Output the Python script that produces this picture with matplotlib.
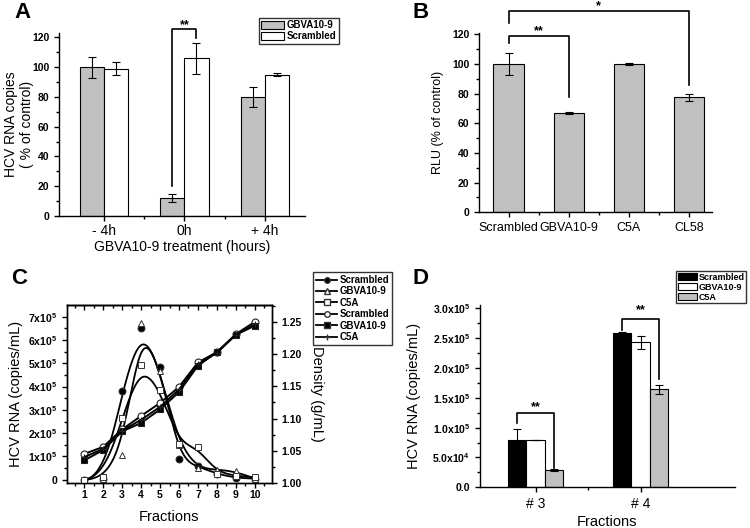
import matplotlib.pyplot as plt
import numpy as np
from matplotlib.ticker import MultipleLocator, FixedLocator, FuncFormatter
from matplotlib.patches import Patch
from matplotlib.lines import Line2D

plt.rcParams['font.family'] = 'Liberation Sans'
plt.rcParams['mathtext.fontset'] = 'custom'
plt.rcParams['mathtext.rm'] = 'Liberation Sans'
plt.rcParams['mathtext.bf'] = 'Liberation Sans:bold'
plt.rcParams['axes.linewidth'] = 1.0

CINZA = '#c0c0c0'

# Painel A
tempos = ['- 4h', '0h', '+ 4h']
a_gbva = [100, 12, 79.7]
a_gbva_err = [7, 2.7, 6.7]
a_scr = [99, 106, 94.8]
a_scr_err = [4.3, 10.5, 1.0]

# Painel B
b_cats = ['Scrambled', 'GBVA10-9', 'C5A', 'CL58']
b_vals = [100, 67, 100, 77.5]
b_err = [7.5, 0.4, 0.8, 2.1]

# Painel C (RNA em unidades de 1e5)
fracoes = [1, 2, 3, 4, 5, 6, 7, 8, 9, 10]
rna_scr = [0.0, 0.05, 3.79, 6.50, 4.86, 0.89, 0.57, 0.25, 0.07, 0.05]
rna_gbva = [0.0, 0.03, 1.05, 6.71, 4.67, 1.50, 0.50, 0.43, 0.36, 0.05]
rna_c5a = [0.0, 0.10, 2.64, 4.93, 3.86, 1.53, 1.40, 0.24, 0.17, 0.10]
dens_scr = [1.045, 1.056, 1.083, 1.104, 1.124, 1.149, 1.187, 1.203, 1.231, 1.250]
dens_gbva = [1.035, 1.051, 1.080, 1.093, 1.114, 1.141, 1.182, 1.203, 1.230, 1.244]
dens_c5a = [1.040, 1.053, 1.081, 1.098, 1.118, 1.145, 1.184, 1.202, 1.230, 1.246]

# Painel D
d_fracoes = ['# 3', '# 4']
d_scr = [8.0e4, 2.58e5]
d_scr_err = [1.7e4, 0.02e5]
d_gbva = [8.0e4, 2.43e5]
d_gbva_err = [0, 0.11e5]
d_c5a = [2.9e4, 1.64e5]
d_c5a_err = [0.1e4, 0.08e5]


def bspline(px, py, k=3, n=400):
    # curva B-spline (estilo Origin): pontos como pontos de controle
    px = np.asarray(px, float)
    py = np.asarray(py, float)
    m = len(px)
    knots = np.concatenate([np.zeros(k), np.arange(m - k + 1), np.full(k, m - k)])
    t = np.linspace(0, m - k, n)
    t[-1] -= 1e-9

    def base(i, p):
        if p == 0:
            return ((knots[i] <= t) & (t < knots[i + 1])).astype(float)
        esq = 0
        d1 = knots[i + p] - knots[i]
        if d1 > 0:
            esq = (t - knots[i]) / d1 * base(i, p - 1)
        dir_ = 0
        d2 = knots[i + p + 1] - knots[i + 1]
        if d2 > 0:
            dir_ = (knots[i + p + 1] - t) / d2 * base(i + 1, p - 1)
        return esq + dir_

    B = np.array([base(i, k) for i in range(m)])
    return px @ B, py @ B


def colchete(ax, x1, x2, y1, y2, ytop, texto, ytexto, fs=9):
    ax.plot([x1, x1, x2, x2], [y1, ytop, ytop, y2], color='black', lw=1.2, clip_on=False)
    ax.text((x1 + x2) / 2, ytexto, texto, ha='center', va='center', fontsize=fs,
            fontweight='bold')


def estilo_origin(ax):
    ax.spines['top'].set_visible(False)
    ax.spines['right'].set_visible(False)
    ax.tick_params(which='both', direction='out', width=1.0)
    ax.tick_params(which='major', length=3.5)
    ax.tick_params(which='minor', length=2)


fig = plt.figure(figsize=(7.5, 5.28), dpi=100)

# ---------- A ----------
ax_a = fig.add_axes([0.0787, 0.5909, 0.328, 0.3468])
x = np.arange(len(tempos))
w = 0.30
ax_a.bar(x - w / 2, a_gbva, w, color=CINZA, edgecolor='black', linewidth=0.8,
         yerr=a_gbva_err, capsize=3, error_kw=dict(elinewidth=0.8, capthick=0.8),
         label='GBVA10-9')
ax_a.bar(x + w / 2, a_scr, w, color='white', edgecolor='black', linewidth=0.8,
         yerr=a_scr_err, capsize=3, error_kw=dict(elinewidth=0.8, capthick=0.8),
         label='Scrambled')
ax_a.set_xlim(-0.56, 2.5)
ax_a.set_ylim(0, 123)
ax_a.set_xticks(x)
ax_a.set_xticklabels(tempos, fontsize=10)
ax_a.xaxis.set_minor_locator(FixedLocator([0.5, 1.5]))
ax_a.yaxis.set_major_locator(MultipleLocator(20))
ax_a.yaxis.set_minor_locator(MultipleLocator(10))
for lb in ax_a.get_yticklabels():
    lb.set_fontweight('bold')
    lb.set_fontsize(7.5)
estilo_origin(ax_a)
ax_a.tick_params(axis='x', pad=2)
ax_a.set_ylabel('HCV RNA copies\n( % of control)', fontsize=10)
ax_a.yaxis.set_label_coords(-0.102, 0.5)
ax_a.set_xlabel('GBVA10-9 treatment (hours)', fontsize=10, labelpad=2)
colchete(ax_a, 1 - w / 2, 1 + w / 2, 20.3, 119.3, 125.4, '**', 128.5)
fig.legend(handles=[Patch(facecolor=CINZA, edgecolor='black', lw=0.8, label='GBVA10-9'),
                    Patch(facecolor='white', edgecolor='black', lw=0.8, label='Scrambled')],
           loc='upper left', bbox_to_anchor=(0.3453, 0.9659), fancybox=False,
           edgecolor='#333333', framealpha=1, prop=dict(size=7, weight='bold'),
           handlelength=2.3, handleheight=0.9, labelspacing=0.1, borderpad=0.25,
           handletextpad=0.3, borderaxespad=0)
fig.text(0.030, 0.977, 'A', fontsize=16, fontweight='bold', ha='center', va='center')

# ---------- B ----------
ax_b = fig.add_axes([0.6387, 0.5979, 0.3107, 0.3398])
xb = np.arange(len(b_cats))
ax_b.bar(xb, b_vals, 0.5, color=CINZA, edgecolor='black', linewidth=0.8,
         yerr=b_err, capsize=3, error_kw=dict(elinewidth=0.8, capthick=0.8))
ax_b.set_xlim(-0.49, 3.38)
ax_b.set_ylim(0, 121)
ax_b.set_xticks(xb)
ax_b.set_xticklabels(b_cats, fontsize=9)
ax_b.xaxis.set_minor_locator(FixedLocator([0.5, 1.5, 2.5]))
ax_b.yaxis.set_major_locator(MultipleLocator(20))
ax_b.yaxis.set_minor_locator(MultipleLocator(10))
for lb in ax_b.get_yticklabels():
    lb.set_fontweight('bold')
    lb.set_fontsize(7.5)
estilo_origin(ax_b)
ax_b.set_ylabel('RLU (% of control)', fontsize=9)
ax_b.yaxis.set_label_coords(-0.152, 0.5)
colchete(ax_b, 0, 1, 114, 78, 119, '**', 122)
colchete(ax_b, 0, 3, 127.4, 85.8, 135.7, '*', 139)
fig.text(0.561, 0.977, 'B', fontsize=16, fontweight='bold', ha='center', va='center')

# ---------- C ----------
ax_c = fig.add_axes([0.0893, 0.0852, 0.2729, 0.3371])
ax_c2 = ax_c.twinx()
fx = np.array(fracoes, float)
for serie, mk, fc in [(rna_scr, 'o', 'black'), (rna_gbva, '^', 'white'), (rna_c5a, 's', 'white')]:
    cx, cy = bspline(fx, np.array(serie) * 1e5)
    ax_c.plot(cx, cy, color='black', lw=1.3, zorder=3)
    ax_c.plot(fx, np.array(serie) * 1e5, ls='none', marker=mk, ms=5,
              mfc=fc, mec='#333333', mew=0.7, zorder=4)
for serie, mk, fc in [(dens_scr, 'o', 'white'), (dens_gbva, 's', 'black'), (dens_c5a, '+', 'black')]:
    ax_c2.plot(fx, serie, color='black', lw=1.4, marker=mk, ms=5, mfc=fc,
               mec='#222222', mew=0.8)
ax_c.set_xlim(0.1, 10.88)
ax_c.set_ylim(-0.14e5, 7.5e5)
ax_c2.set_ylim(1.0, 1.276)
ax_c.set_xticks(fracoes)
ax_c.xaxis.set_minor_locator(MultipleLocator(0.5))
ax_c.yaxis.set_major_locator(FixedLocator(np.arange(0, 8) * 1e5))
ax_c.yaxis.set_minor_locator(FixedLocator(np.arange(0.5, 7.5, 1) * 1e5))
ax_c.yaxis.set_major_formatter(FuncFormatter(
    lambda v, _: '0' if abs(v) < 1 else r'$\mathbf{%dx10^5}$' % round(v / 1e5)))
ax_c2.yaxis.set_major_locator(MultipleLocator(0.05))
ax_c2.yaxis.set_minor_locator(MultipleLocator(0.025))
ax_c2.yaxis.set_major_formatter(FuncFormatter(lambda v, _: '%.2f' % v))
for a in (ax_c, ax_c2):
    a.tick_params(which='both', direction='out', width=1.0)
    a.tick_params(which='major', length=3.5)
    a.tick_params(which='minor', length=2)
    for lb in a.get_xticklabels() + a.get_yticklabels():
        lb.set_fontweight('bold')
        lb.set_fontsize(7.5)
ax_c.tick_params(axis='x', pad=1.5)
sec = ax_c.secondary_xaxis('top')
sec.set_xticks(fracoes)
sec.xaxis.set_minor_locator(MultipleLocator(0.5))
sec.tick_params(which='both', direction='in', labeltop=False, width=1.0)
sec.tick_params(which='major', length=3.5)
sec.tick_params(which='minor', length=2)
ax_c.set_ylabel('HCV RNA (copies/mL)', fontsize=10.5, labelpad=4)
ax_c2.set_ylabel('Density (g/mL)', fontsize=10.5, rotation=270, labelpad=16)
ax_c.set_xlabel('Fractions', fontsize=10.5, labelpad=7)
hc = [Line2D([], [], color='black', lw=1.3, marker='o', ms=4, mfc='black', mec='#333333'),
      Line2D([], [], color='black', lw=1.3, marker='^', ms=4, mfc='white', mec='#333333'),
      Line2D([], [], color='black', lw=1.3, marker='s', ms=4, mfc='white', mec='#333333'),
      Line2D([], [], color='black', lw=1.3, marker='o', ms=4, mfc='white', mec='#333333'),
      Line2D([], [], color='black', lw=1.3, marker='s', ms=4, mfc='black', mec='#333333'),
      Line2D([], [], color='black', lw=1.3, marker='+', ms=4, mfc='black', mec='#333333')]
fig.legend(handles=hc, labels=['Scrambled', 'GBVA10-9', 'C5A', 'Scrambled', 'GBVA10-9', 'C5A'],
           loc='upper left', bbox_to_anchor=(0.4173, 0.4848), fancybox=False,
           edgecolor='#333333', framealpha=1, prop=dict(size=7, weight='bold'),
           handlelength=2.2, labelspacing=0.15, borderpad=0.3,
           handletextpad=0.2, borderaxespad=0)
fig.text(0.025, 0.473, 'C', fontsize=16, fontweight='bold', ha='center', va='center')

# ---------- D ----------
ax_d = fig.add_axes([0.64, 0.0771, 0.34, 0.3447])
xd = np.arange(len(d_fracoes))
wd = 0.175
ek = dict(elinewidth=0.8, capthick=0.8)
ax_d.bar(xd - wd, d_scr, wd, color='black', edgecolor='black', linewidth=0.8,
         yerr=d_scr_err, capsize=3, error_kw=ek, label='Scrambled')
ax_d.bar(xd, d_gbva, wd, color='white', edgecolor='black', linewidth=0.8,
         yerr=d_gbva_err, capsize=3, error_kw=ek, label='GBVA10-9')
ax_d.bar(xd + wd, d_c5a, wd, color=CINZA, edgecolor='black', linewidth=0.8,
         yerr=d_c5a_err, capsize=3, error_kw=ek, label='C5A')
ax_d.set_xlim(-0.53, 1.9)
ax_d.set_ylim(0, 3.05e5)
ax_d.set_xticks(xd)
ax_d.set_xticklabels(d_fracoes, fontsize=10)
ax_d.xaxis.set_minor_locator(FixedLocator([0.5]))
ax_d.yaxis.set_major_locator(FixedLocator(np.arange(0, 7) * 0.5e5))
ax_d.yaxis.set_minor_locator(FixedLocator(np.arange(0.5, 6, 1) * 0.5e5))


def fmt_d(v, _):
    if v < 1:
        return '0.0'
    e = int(np.floor(np.log10(v)))
    return r'$\mathbf{%.1fx10^%d}$' % (v / 10 ** e, e)


ax_d.yaxis.set_major_formatter(FuncFormatter(fmt_d))
for lb in ax_d.get_yticklabels():
    lb.set_fontweight('bold')
    lb.set_fontsize(7.5)
estilo_origin(ax_d)
ax_d.set_ylabel('HCV RNA (copies/mL)', fontsize=10.5)
ax_d.yaxis.set_label_coords(-0.232, 0.5)
ax_d.set_xlabel('Fractions', fontsize=10.5, labelpad=3)
colchete(ax_d, -wd, wd, 1.07e5, 0.32e5, 1.24e5, '**', 1.35e5)
colchete(ax_d, 1 - wd, 1 + wd, 2.64e5, 1.82e5, 2.82e5, '**', 2.96e5)
fig.legend(handles=[Patch(facecolor='black', edgecolor='black', lw=0.8, label='Scrambled'),
                    Patch(facecolor='white', edgecolor='black', lw=0.8, label='GBVA10-9'),
                    Patch(facecolor=CINZA, edgecolor='black', lw=0.8, label='C5A')],
           loc='upper left', bbox_to_anchor=(0.9013, 0.4867), fancybox=False,
           edgecolor='#333333', framealpha=1, prop=dict(size=6.5, weight='bold'),
           handlelength=2.1, handleheight=0.9, labelspacing=0.1, borderpad=0.2,
           handletextpad=0.2, borderaxespad=0)
fig.text(0.560, 0.473, 'D', fontsize=16, fontweight='bold', ha='center', va='center')

fig.savefig('out.png', dpi=100)
